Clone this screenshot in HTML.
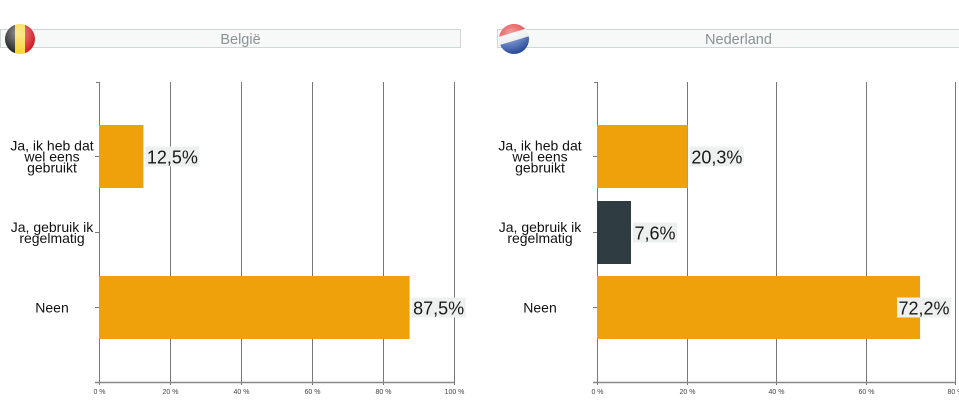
<!DOCTYPE html>
<html><head><meta charset="utf-8"><style>
body{margin:0;background:#fff;width:959px;height:409px;overflow:hidden;font-family:"Liberation Sans",Arial,sans-serif}
svg{display:block}
</style></head><body>
<svg id="svg" width="959" height="409" xmlns="http://www.w3.org/2000/svg">
<defs>
<linearGradient id="be" x1="0" x2="1" y1="0" y2="0"><stop offset="0" stop-color="#111"/><stop offset="0.33" stop-color="#222"/><stop offset="0.34" stop-color="#f5d020"/><stop offset="0.66" stop-color="#f8d840"/><stop offset="0.67" stop-color="#e0202a"/><stop offset="1" stop-color="#c81a22"/></linearGradient>
<linearGradient id="nl" x1="0" x2="0.3" y1="0" y2="1"><stop offset="0" stop-color="#d82a2a"/><stop offset="0.38" stop-color="#e84040"/><stop offset="0.4" stop-color="#f2f2f2"/><stop offset="0.64" stop-color="#e8e8e8"/><stop offset="0.66" stop-color="#3a5fb0"/><stop offset="1" stop-color="#2a4a98"/></linearGradient>
<radialGradient id="shine" cx="0.4" cy="0.3" r="0.7"><stop offset="0" stop-color="#fff" stop-opacity="0.5"/><stop offset="1" stop-color="#fff" stop-opacity="0"/></radialGradient>
</defs>
</svg>
<script>
const categories = ["Ja, ik heb dat|wel eens|gebruikt", "Ja, gebruik ik|regelmatig", "Neen"];
const beValues = [12.5, 0, 87.5];
const nlValues = [20.3, 7.6, 72.2];
const beTicks = [0, 20, 40, 60, 80, 100];
const nlTicks = [0, 20, 40, 60, 80];
const beMax = 100;
const nlMax = 80;

const NS = "http://www.w3.org/2000/svg";
const svg = document.getElementById('svg');
function mk(tag, attrs, parent){const e=document.createElementNS(NS,tag);for(const k in attrs)e.setAttribute(k,attrs[k]);(parent||svg).appendChild(e);return e;}

function header(x0, x1, title, flagX, grad, key){
  const g = mk('g',{});
  
  
  mk('rect',{x:x0+0.5,y:29.5,width:x1-x0-1,height:18,fill:'#f7f8f8',stroke:'#cfd6d6'},g);
  const t = mk('text',{x:(x0+x1)/2+10,y:44,'text-anchor':'middle','font-size':14.5,fill:'#8a9294'},g);
  t.textContent = title;
  
  
  const f = mk('g',{},g);
  
  
  mk('circle',{cx:flagX,cy:39,r:15,fill:'url(#'+grad+')'},f);
  mk('circle',{cx:flagX,cy:39,r:15,fill:'url(#shine)'},f);
}

function chart(key, values, ticks, max, x0, x1, labelCx){
  const top = 82, bottom = 382;
  const xs = v => x0 + (v/max)*(x1-x0);
  const rowTop = [125, 201, 276], barH = 63;
  const g = mk('g',{});
  
  
  ticks.forEach(t=>{
    const x = Math.round(xs(t))+0.5;
    const l = mk('line',{x1:x,x2:x,y1:top,y2:bottom+3,stroke:'#777','stroke-width':1},g);
    
    
    const tx = mk('text',{x:x,y:394,'text-anchor':'middle','font-size':7,fill:'#444'},g);
    tx.textContent = t + ' %';
    
    
  });
  mk('line',{x1:x0-4,x2:x1,y1:bottom+0.5,y2:bottom+0.5,stroke:'#888','stroke-width':1.5},g);
  mk('line',{x1:x0-3,x2:x0,y1:top+0.5,y2:top+0.5,stroke:'#777'},g);
  categories.forEach((c,i)=>{
    const cy = rowTop[i] + barH/2;
    mk('line',{x1:x0-4,x2:x0,y1:cy,y2:cy,stroke:'#777'},g);
    const lines = c.split('|');
    const t = mk('text',{'text-anchor':'middle','font-size':14,fill:'#111'},g);
    
    
    lines.forEach((ln,j)=>{
      const ts = mk('tspan',{x:labelCx, y: cy + 5 + (j-(lines.length-1)/2)*11},t);
      ts.textContent = ln;
    });
    const v = values[i];
    if (v > 0){
      const w = xs(v) - x0;
      const b = mk('rect',{x:x0,y:rowTop[i],width:w,height:barH,fill:i===1?'#2f3c42':'#eea10b'},g);
      
      
      const txt = v.toFixed(1).replace('.',',') + '%';
      const lw = 54 - (txt.length<5?10:0);
      let lx = xs(v) + 2;
      if (lx + lw > 957) lx = 957 - 6 - lw;
      mk('rect',{x:lx,y:cy-10,width:lw,height:20,fill:'#eef0f0'},g);
      const vt = mk('text',{x:lx+lw/2,y:cy+7,'text-anchor':'middle','font-size':18,fill:'#1a1a1a'},g);
      vt.textContent = txt;
      
      
    }
  });
}

header(0, 461, 'België', 20, 'be', 'belgium');
header(497, 960, 'Nederland', 514, 'nl', 'netherlands');
chart('belgium', beValues, beTicks, beMax, 99, 454, 52);
chart('netherlands', nlValues, nlTicks, nlMax, 597, 955, 540);
</script>
</body></html>
